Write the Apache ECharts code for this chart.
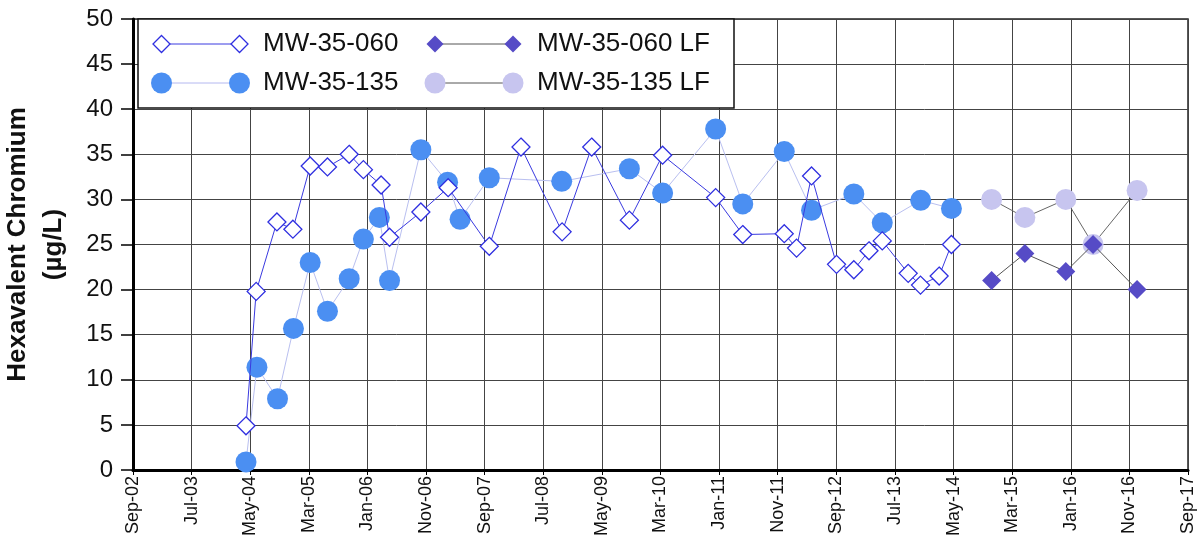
<!DOCTYPE html>
<html>
<head>
<meta charset="utf-8">
<script src="https://cdn.jsdelivr.net/npm/echarts@6/dist/echarts.min.js"></script>
<style>
html,body{margin:0;padding:0;background:#fff;}
#chart{width:1198px;height:544px;}
</style>
</head>
<body>
<div id="chart"></div>
<script>
// ---- data ----
const seriesNames = ['MW-35-060', 'MW-35-135', 'MW-35-060 LF', 'MW-35-135 LF'];
const monthNames = ['Jan','Feb','Mar','Apr','May','Jun','Jul','Aug','Sep','Oct','Nov','Dec'];

const mw060Dates = ['2004-04-13','2004-06-05','2004-09-21','2004-12-13','2005-03-13','2005-06-11','2005-10-02','2005-12-15','2006-03-17','2006-04-30','2006-10-10','2007-03-01','2007-10-01','2008-03-14','2008-10-14','2009-03-17','2009-09-29','2010-03-21','2010-12-22','2011-05-12','2011-12-14','2012-02-16','2012-05-04','2012-09-11','2012-12-10','2013-02-27','2013-05-07','2013-09-19','2013-11-22','2014-02-27','2014-05-02'];
const mw060Values = [4.9,19.8,27.5,26.7,33.7,33.6,35.0,33.3,31.6,25.8,28.6,31.3,24.8,35.8,26.4,35.8,27.7,34.9,30.2,26.1,26.2,24.6,32.6,22.8,22.2,24.3,25.4,21.8,20.5,21.5,25.0];

const mw135Dates = ['2004-04-13','2004-06-09','2004-09-24','2004-12-16','2005-03-13','2005-06-11','2005-10-02','2005-12-15','2006-03-08','2006-04-30','2006-10-10','2007-02-26','2007-05-02','2007-10-01','2008-10-12','2009-09-29','2010-03-21','2010-12-22','2011-05-12','2011-12-14','2012-05-04','2012-12-10','2013-05-07','2013-11-23','2014-05-02'];
const mw135Values = [0.9,11.4,7.9,15.7,23.0,17.6,21.2,25.6,28.0,21.0,35.5,31.9,27.8,32.4,32.0,33.4,30.7,37.8,29.5,35.3,28.8,30.6,27.4,29.9,29.0];

const lfDates = ['2014-11-27','2015-05-19','2015-12-18','2016-05-08','2016-12-23'];
const mw060LFValues = [21.0,24.0,22.0,25.0,20.0];
const mw135LFValues = [30.0,28.0,30.0,25.0,31.0];

// x axis: days since epoch, ticks every 305 days (Sep-02 ... Sep-17)
const EPOCH = Date.UTC(2002, 8, 3);
const X_INTERVAL = 305;
const X_MAX = 18 * X_INTERVAL;
const yTicks = {min: 0, max: 50, interval: 5};

function dayOf(s) {
  const p = s.split('-').map(Number);
  return (Date.UTC(p[0], p[1] - 1, p[2]) - EPOCH) / 86400000;
}
function pairs(dates, vals) { return dates.map((d, i) => [dayOf(d), vals[i]]); }
function fmtDate(v) {
  const dt = new Date(EPOCH + v * 86400000);
  return monthNames[dt.getUTCMonth()] + '-' + String(dt.getUTCFullYear() % 100).padStart(2, '0');
}

const FONT = '"Liberation Sans", Arial, sans-serif';
const C060 = '#2f2fe0', C135 = '#4b8ff2', C060LF = '#564bc6', C135LF = '#c7c5ef';

// ---- legend (drawn as graphic, Excel-like marker-line-marker) ----
function diamondPts(cx, cy, s) { const h = s / 2; return [[cx, cy - h], [cx + h, cy], [cx, cy + h], [cx - h, cy]]; }
function legendItem(x1, x2, y, tx, name, kind) {
  const els = [];
  let lineColor, mk;
  if (kind === 0) { lineColor = '#3a3ae0'; mk = (x) => ({type:'polygon', shape:{points:diamondPts(x, y, 17)}, style:{fill:'#fff', stroke:C060, lineWidth:1.3}}); }
  if (kind === 1) { lineColor = '#b4b8f0'; mk = (x) => ({type:'circle', shape:{cx:x, cy:y, r:10.5}, style:{fill:C135}}); }
  if (kind === 2) { lineColor = '#555'; mk = (x) => ({type:'polygon', shape:{points:diamondPts(x, y, 17)}, style:{fill:C060LF}}); }
  if (kind === 3) { lineColor = '#555'; mk = (x) => ({type:'circle', shape:{cx:x, cy:y, r:10.5}, style:{fill:C135LF}}); }
  els.push({type:'line', shape:{x1:x1, y1:y, x2:x2, y2:y}, style:{stroke:lineColor, lineWidth:1}});
  els.push(mk(x1)); els.push(mk(x2));
  els.push({type:'text', x:tx, y:y, style:{text:name, font:'26px ' + FONT, fill:'#111', textVerticalAlign:'middle', verticalAlign:'middle'}});
  return els;
}
const legendEls = [{type:'rect', shape:{x:138, y:19, width:596, height:89}, style:{fill:'#fff', stroke:'#111', lineWidth:1.5}}]
  .concat(legendItem(161.5, 239.5, 44, 263, seriesNames[0], 0))
  .concat(legendItem(161.5, 239.5, 83, 263, seriesNames[1], 1))
  .concat(legendItem(435, 513, 44, 537, seriesNames[2], 2))
  .concat(legendItem(435, 513, 83, 537, seriesNames[3], 3));

const chart = echarts.init(document.getElementById('chart'), null, {renderer: 'canvas'});
chart.setOption({
  animation: false,
  backgroundColor: '#fff',
  textStyle: {fontFamily: FONT},
  grid: {left: 133, right: 10, top: 19, bottom: 74, outerBoundsMode: 'none', containLabel: false,
         show: true, borderColor: '#222', borderWidth: 1.5, backgroundColor: '#fff'},
  xAxis: {
    type: 'value', min: 0, max: X_MAX, interval: X_INTERVAL,
    axisLine: {show: true, onZero: false, lineStyle: {color: '#000', width: 3}},
    axisTick: {show: true, length: 5, lineStyle: {color: '#000', width: 1}},
    axisLabel: {rotate: 90, fontSize: 18, color: '#111', margin: 6, fontFamily: FONT, formatter: fmtDate, showMinLabel: true, showMaxLabel: true},
    splitLine: {show: true, lineStyle: {color: '#444', width: 1}}
  },
  yAxis: {
    type: 'value', min: yTicks.min, max: yTicks.max, interval: yTicks.interval,
    name: 'Hexavalent Chromium\n(\u00b5g/L)', nameLocation: 'middle', nameGap: 61,
    nameTextStyle: {fontSize: 26, fontWeight: 'bold', lineHeight: 36, color: '#111', fontFamily: FONT},
    axisLine: {show: true, lineStyle: {color: '#000', width: 3}},
    axisTick: {show: true, length: 12, lineStyle: {color: '#000', width: 1.5}},
    axisLabel: {fontSize: 24, color: '#111', margin: 20, fontFamily: FONT},
    splitLine: {show: true, lineStyle: {color: '#444', width: 1}}
  },
  series: [
    {name: seriesNames[1], type: 'line', data: pairs(mw135Dates, mw135Values), symbol: 'circle', symbolSize: 21,
     itemStyle: {color: C135}, lineStyle: {color: '#b9bff0', width: 1}, z: 2},
    {name: seriesNames[0], type: 'line', data: pairs(mw060Dates, mw060Values), symbol: 'diamond', symbolSize: 18,
     itemStyle: {color: '#fff', borderColor: C060, borderWidth: 1.3}, lineStyle: {color: '#3a3ae0', width: 1}, z: 3},
    {name: seriesNames[3], type: 'line', data: pairs(lfDates, mw135LFValues), symbol: 'circle', symbolSize: 21,
     itemStyle: {color: C135LF}, lineStyle: {color: '#666', width: 1}, z: 4},
    {name: seriesNames[2], type: 'line', data: pairs(lfDates, mw060LFValues), symbol: 'diamond', symbolSize: 19,
     itemStyle: {color: C060LF}, lineStyle: {color: '#555', width: 1}, z: 5}
  ],
  graphic: {elements: legendEls.map(e => Object.assign({z: 100}, e))}
});
</script>
</body>
</html>
